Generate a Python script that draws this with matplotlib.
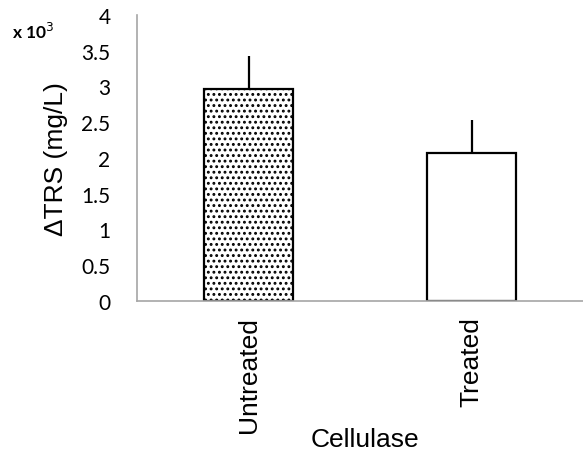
import matplotlib.pyplot as plt

categories = ["Untreated", "Treated"]
values = [2.96, 2.07]
errors = [0.46, 0.46]
hatches = ["...", ""]

plt.rcParams["hatch.linewidth"] = 1.3

fig = plt.figure(figsize=(5.83, 4.52), dpi=100)
ax = fig.add_axes([0.235, 0.332, 0.765, 0.633])

x = list(range(len(categories)))
bars = ax.bar(x, values, width=0.4, color="white", edgecolor="black", linewidth=1.6)
for b, h in zip(bars, hatches):
    b.set_hatch(h)
ax.errorbar(x, values, yerr=[[0] * len(errors), errors], fmt="none",
            ecolor="black", elinewidth=1.6, capsize=0)

ax.set_xlim(-0.5, 1.5)
ax.set_ylim(0, 4)
ax.set_yticks([0, 0.5, 1, 1.5, 2, 2.5, 3, 3.5, 4])
ax.set_yticklabels(["0", "0.5", "1", "1.5", "2", "2.5", "3", "3.5", "4"],
                   family="Lato", fontsize=15)
ax.set_xticks(x)
ax.set_xticklabels(categories, rotation=90, family="Liberation Sans", fontsize=19)
ax.tick_params(axis="y", length=0, pad=19)
ax.tick_params(axis="x", length=0, pad=11)

for s in ["top", "right"]:
    ax.spines[s].set_visible(False)
for s in ["left", "bottom"]:
    ax.spines[s].set_color("#a6a6a6")
    ax.spines[s].set_linewidth(1.2)

ax.set_ylabel("ΔTRS (mg/L)", family="Liberation Sans", fontsize=19)
ax.yaxis.set_label_coords(-0.155, 0.5)

# x axis title placed by hand, the default spot falls off the figure
fig.text(365 / 583, 1 - 440 / 452, "Cellulase", family="Liberation Sans",
         fontsize=19, ha="center", va="center")

fig.text(0.02, 0.93, "x 10$^3$", family="Lato", fontsize=12.5, fontweight="bold",
         va="center")

fig.savefig("out.png", dpi=100)
